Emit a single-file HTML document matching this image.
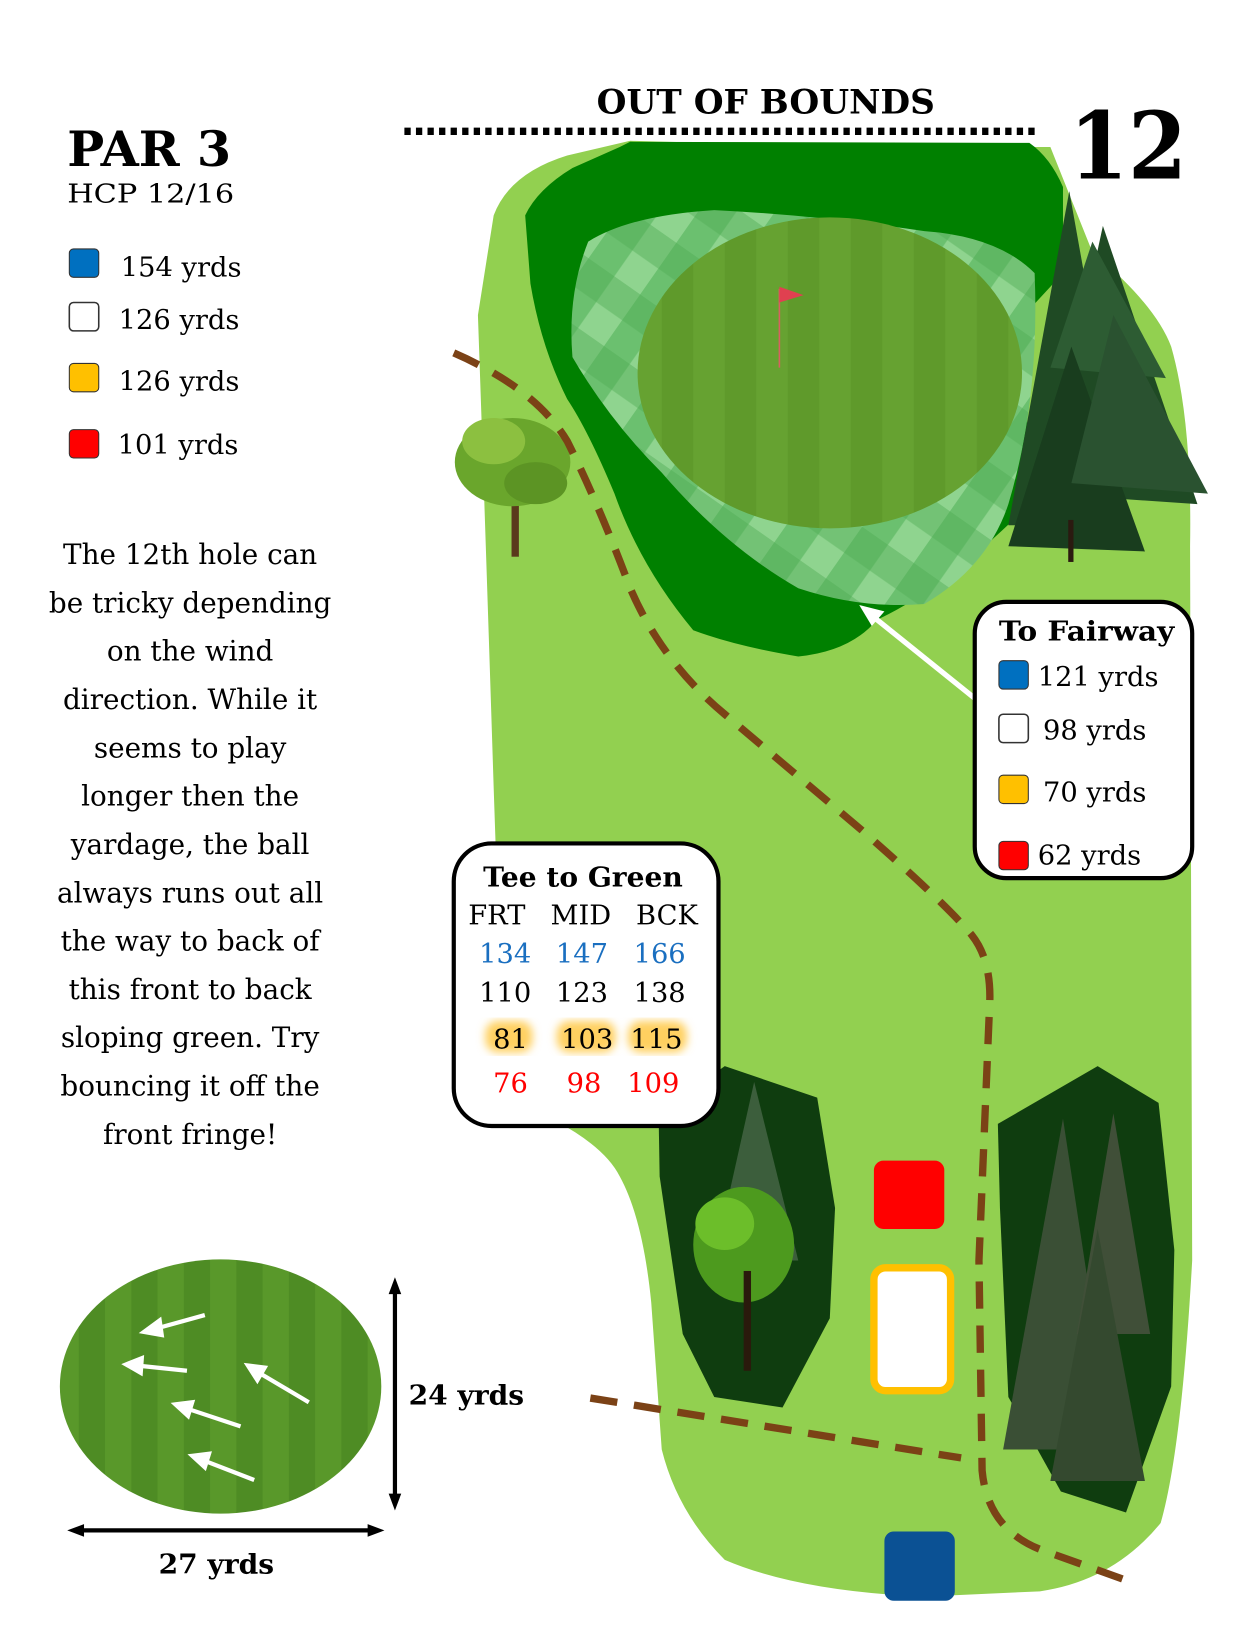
<!DOCTYPE html>
<html><head><meta charset="utf-8"><style>
html,body{margin:0;padding:0;background:#fff;}
svg{display:block;}
text{font-family:"DejaVu Serif","Liberation Serif",serif;}
</style></head><body>
<svg width="1251" height="1647" viewBox="0 0 1191 1568" preserveAspectRatio="none" xmlns="http://www.w3.org/2000/svg">
<defs>
<pattern id="plaid" width="60" height="60" patternUnits="userSpaceOnUse" patternTransform="rotate(35)">
<rect width="60" height="60" fill="#8fd48f"/>
<rect width="30" height="60" fill="#4fae55" opacity="0.55"/>
<rect width="60" height="30" fill="#4fae55" opacity="0.45"/>
</pattern>
<pattern id="stripe" width="60" height="60" patternUnits="userSpaceOnUse">
<rect width="60" height="60" fill="#5f9a2b"/>
<rect width="30" height="60" fill="#6aa533" opacity="0.7"/>
</pattern>
<pattern id="stripe2" width="50" height="50" patternUnits="userSpaceOnUse">
<rect width="50" height="50" fill="#4e8c24"/>
<rect width="25" height="50" fill="#5b9b2c" opacity="0.8"/>
</pattern>
<filter id="glow"><feGaussianBlur stdDeviation="4"/></filter>
</defs>

<path d="M470,205 Q485,165 540,148 L600,134 Q800,140 1000,140 L1040,240 Q1100,290 1115,330 Q1135,400 1133,520 L1135,1200 Q1125,1380 1105,1450 Q1060,1505 990,1515 L880,1520 Q760,1515 690,1485 Q645,1440 630,1380 L620,1240 Q612,1160 590,1120 Q570,1080 480,1045 L470,750 Q462,500 455,300 Z" fill="#92d050"/>

<path d="M500,205 Q512,180 545,160 L590,140 L600,135 L980,136 Q1000,150 1012,178 L1012,260 L975,300 L980,480 Q900,560 835,590 Q810,620 760,625 Q700,615 660,600 Q610,540 585,470 Q560,410 540,380 Q515,330 505,270 Z" fill="#008000"/>

<path d="M560,230 Q600,205 680,200 Q780,205 880,220 Q950,225 985,260 Q990,380 960,480 Q940,540 880,575 Q820,580 760,560 Q690,520 630,450 Q580,400 545,340 Q540,280 560,230 Z" fill="url(#plaid)"/>

<ellipse cx="790" cy="355" rx="183" ry="148" fill="url(#stripe)"/>
<line x1="742" y1="275" x2="742" y2="350" stroke="#d86060" stroke-width="1.5"/>
<path d="M742,273 L765,281 L742,288 Z" fill="#e04050"/>

<g fill="#1f4a24">
<polygon points="1018,182 960,500 1075,500"/>
<polygon points="1050,215 995,470 1140,480"/>
<polygon points="1040,230 1000,350 1110,360" fill="#2d5c33"/>
<polygon points="1020,330 960,520 1090,525" fill="#193d1e"/>
<polygon points="1060,300 1020,460 1150,470" fill="#2a5230"/>
</g>
<rect x="1017" y="495" width="5" height="40" fill="#2b1a10"/>

<rect x="487" y="450" width="7" height="80" fill="#5a3a1c"/>
<ellipse cx="488" cy="440" rx="55" ry="42" fill="#6aa62c"/>
<ellipse cx="470" cy="420" rx="30" ry="22" fill="#8cc040"/>
<ellipse cx="510" cy="460" rx="30" ry="20" fill="#5c9424"/>

<polygon points="627,1060 690,1015 778,1045 795,1150 790,1255 745,1340 680,1330 650,1270 628,1120" fill="#0f3d0f"/>
<polygon points="950,1070 1045,1015 1103,1050 1118,1190 1115,1320 1072,1440 1010,1420 960,1330 952,1150" fill="#0f3d0f"/>
<polygon points="718,1030 680,1200 760,1200" fill="#3c5e3c"/>
<ellipse cx="708" cy="1185" rx="48" ry="55" fill="#4d9a1e"/>
<ellipse cx="690" cy="1165" rx="28" ry="25" fill="#6cbe2a"/>
<rect x="708" y="1210" width="7" height="95" fill="#2a1a0c"/>
<polygon points="1012,1065 955,1380 1060,1380" fill="#3a4f35"/>
<polygon points="1060,1060 1025,1270 1095,1270" fill="#404f38"/>
<polygon points="1045,1170 1000,1410 1090,1410" fill="#34492f"/>

<path d="M432,336 Q510,370 540,420 Q570,480 600,560 Q630,630 690,680 L820,790 Q900,860 925,890 Q945,915 942,960 L932,1200 L935,1400 Q940,1455 990,1475 L1082,1508" fill="none" stroke="#7b4216" stroke-width="7" stroke-dasharray="26 16"/>
<path d="M562,1331 L915,1388" fill="none" stroke="#7b4216" stroke-width="7" stroke-dasharray="26 16"/>

<rect x="832" y="1105" width="67" height="65" rx="9" fill="#ff0000"/>
<rect x="832" y="1207" width="73" height="117" rx="11" fill="#fff" stroke="#ffc000" stroke-width="7"/>
<rect x="842" y="1458" width="67" height="66" rx="9" fill="#0b5194"/>

<text x="729" y="108" text-anchor="middle" font-size="32" font-weight="bold" textLength="322" lengthAdjust="spacingAndGlyphs">OUT OF BOUNDS</text>
<line x1="385" y1="125" x2="990" y2="125" stroke="#000" stroke-width="7" stroke-dasharray="6 5"/>
<text x="1018" y="170" font-size="88" font-weight="bold" textLength="112" lengthAdjust="spacingAndGlyphs">12</text>
<text x="64" y="158" font-size="46" font-weight="bold" textLength="156" lengthAdjust="spacingAndGlyphs">PAR 3</text>
<text x="64" y="193" font-size="25" textLength="159" lengthAdjust="spacingAndGlyphs">HCP  12/16</text>

<rect x="66" y="237" width="28" height="27" rx="4" fill="#0070c0" stroke="#333" stroke-width="1"/>
<text x="115" y="263" font-size="26">154 yrds</text>
<rect x="66" y="288" width="28" height="27" rx="4" fill="#fff" stroke="#333" stroke-width="1.5"/>
<text x="113" y="313" font-size="26">126 yrds</text>
<rect x="66" y="346" width="28" height="27" rx="4" fill="#ffc000" stroke="#333" stroke-width="1"/>
<text x="113" y="372" font-size="26">126 yrds</text>
<rect x="66" y="409" width="28" height="27" rx="4" fill="#ff0000" stroke="#333" stroke-width="1"/>
<text x="112" y="432" font-size="26">101 yrds</text>

<g font-size="26.5" text-anchor="middle">
<text x="181" y="537">The 12th hole can</text>
<text x="181" y="583">be tricky depending</text>
<text x="181" y="629">on the wind</text>
<text x="181" y="675">direction. While it</text>
<text x="181" y="721">seems to play</text>
<text x="181" y="767">longer then the</text>
<text x="181" y="813">yardage, the ball</text>
<text x="181" y="859">always runs out all</text>
<text x="181" y="905">the way to back of</text>
<text x="181" y="951">this front to back</text>
<text x="181" y="997">sloping green. Try</text>
<text x="181" y="1043">bouncing it off the</text>
<text x="181" y="1089">front fringe!</text>
</g>

<rect x="432" y="803" width="252" height="269" rx="36" fill="#fff" stroke="#000" stroke-width="4"/>
<text x="555" y="844" text-anchor="middle" font-size="26" font-weight="bold" textLength="190" lengthAdjust="spacingAndGlyphs">Tee to Green</text>
<g font-size="26" text-anchor="middle">
<text x="473" y="880">FRT</text><text x="553" y="880">MID</text><text x="635" y="880">BCK</text>
<g fill="#1a6fc0"><text x="481" y="917">134</text><text x="554" y="917">147</text><text x="628" y="917">166</text></g>
<text x="481" y="954">110</text><text x="554" y="954">123</text><text x="628" y="954">138</text>
<g fill="#ffd060" filter="url(#glow)"><rect x="462" y="972" width="45" height="30" rx="12"/><rect x="530" y="972" width="56" height="30" rx="12"/><rect x="598" y="972" width="56" height="30" rx="12"/></g>
<text x="486" y="998">81</text><text x="559" y="998">103</text><text x="625" y="998">115</text>
<g fill="#ff0000"><text x="486" y="1040">76</text><text x="556" y="1040">98</text><text x="622" y="1040">109</text></g>
</g>

<line x1="932" y1="668" x2="830" y2="586" stroke="#fff" stroke-width="5"/>
<polygon points="818,576 842,582 830,596" fill="#fff"/>

<rect x="928" y="573" width="207" height="263" rx="30" fill="#fff" stroke="#000" stroke-width="4"/>
<text x="951" y="610" font-size="26" font-weight="bold" textLength="167" lengthAdjust="spacingAndGlyphs">To Fairway</text>
<rect x="951" y="629" width="28" height="27" rx="4" fill="#0070c0" stroke="#333"/>
<text x="988" y="653" font-size="26">121 yrds</text>
<rect x="951" y="680" width="28" height="27" rx="4" fill="#fff" stroke="#333" stroke-width="1.5"/>
<text x="993" y="704" font-size="26">98 yrds</text>
<rect x="951" y="738" width="28" height="27" rx="4" fill="#ffc000" stroke="#333"/>
<text x="993" y="763" font-size="26">70 yrds</text>
<rect x="951" y="801" width="28" height="27" rx="4" fill="#ff0000" stroke="#333"/>
<text x="988" y="823" font-size="26">62  yrds</text>

<ellipse cx="210" cy="1320" rx="153" ry="121" fill="url(#stripe2)"/>
<g stroke="#fff" stroke-width="4" fill="#fff">
<line x1="195" y1="1252" x2="148" y2="1265"/><polygon points="137,1268 152,1257 154,1271" />
<line x1="178" y1="1305" x2="130" y2="1300"/><polygon points="120,1299 135,1293 134,1307"/>
<line x1="294" y1="1335" x2="245" y2="1306"/><polygon points="236,1300 252,1302 245,1314"/>
<line x1="229" y1="1358" x2="178" y2="1341"/><polygon points="167,1337 183,1335 179,1348"/>
<line x1="242" y1="1409" x2="193" y2="1390"/><polygon points="183,1386 199,1384 195,1397"/>
</g>
<line x1="376" y1="1226" x2="376" y2="1428" stroke="#000" stroke-width="4"/>
<polygon points="376,1216 370,1232 382,1232"/><polygon points="376,1438 370,1422 382,1422"/>
<line x1="74" y1="1457" x2="356" y2="1457" stroke="#000" stroke-width="4"/>
<polygon points="64,1457 80,1451 80,1463"/><polygon points="366,1457 350,1451 350,1463"/>
<text x="389" y="1337" font-size="26" font-weight="bold" textLength="110" lengthAdjust="spacingAndGlyphs">24 yrds</text>
<text x="206" y="1498" text-anchor="middle" font-size="26" font-weight="bold" textLength="110" lengthAdjust="spacingAndGlyphs">27 yrds</text>
</svg>
</body></html>
